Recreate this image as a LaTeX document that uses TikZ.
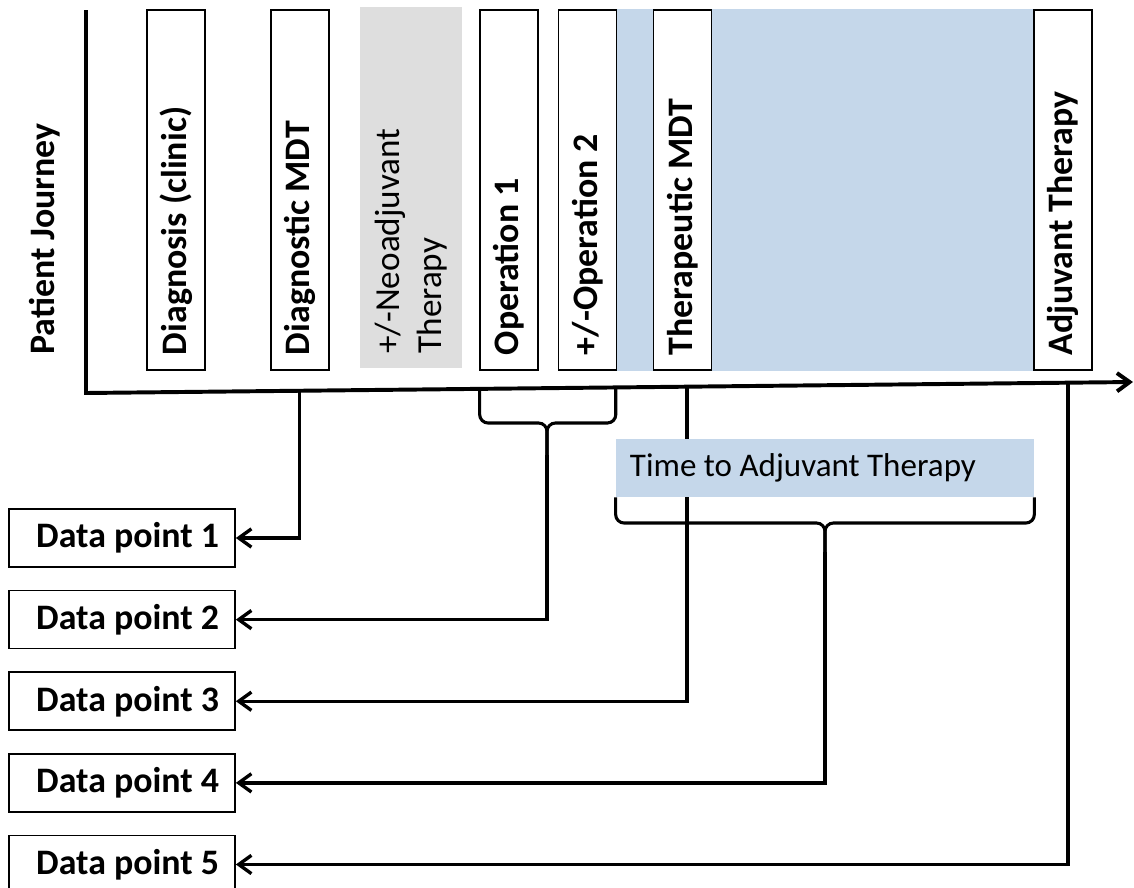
\documentclass[tikz,border=0pt]{standalone}
\usepackage{fontspec}
\setmainfont{Carlito}
\usetikzlibrary{arrows.meta,backgrounds}
\definecolor{stagegrey}{HTML}{DEDEDE}
\definecolor{gapblue}{HTML}{C5D7EA}
\tikzset{
  stage/.style={draw, line width=1.2pt, fill=white, rotate=90,
    minimum width=9cm, minimum height=1.45cm, text width=8.25cm,
    inner xsep=0.375cm, align=flush left, font=\bfseries\fontsize{25.5}{30.6}\selectfont},
  neo/.style={fill=stagegrey, rotate=90, minimum width=9.025cm,
    minimum height=2.55cm, text width=8.3cm, inner xsep=0.36cm,
    align=flush left, font=\fontsize{25}{30}\selectfont},
  datapt/.style={draw, line width=1.2pt, minimum height=1.45cm,
    text width=4.85cm, inner xsep=0.4cm, align=flush right,
    font=\bfseries\fontsize{25.5}{30.6}\selectfont},
  gap/.style={fill=gapblue, minimum height=1.45cm, text width=9.75cm,
    inner xsep=0.35cm, align=flush left, font=\fontsize{23.5}{28}\selectfont},
  axis/.style={line width=2.8pt, -{Straight Barb[length=9pt,width=13pt]}},
  link/.style={line width=2.4pt, -{Straight Barb[length=9pt,width=13pt]}},
  brace/.style={line width=2.2pt, rounded corners=6pt}
}
\begin{document}
\begin{tikzpicture}[x=0.025cm,y=-0.025cm]
    \useasboundingbox (0,0) rectangle (1134,888);
    % stages of the journey
    \node[stage] (diag) at (176,190) {Diagnosis (clinic)};
    \node[stage] (dmdt) at (300,190) {Diagnostic MDT};
    \node[neo] (neo) at (411,187.5) {+/-Neoadjuvant\\Therapy};
    \node[stage] (op1) at (509,190) {Operation 1};
    \node[stage] (op2) at (587.5,190) {+/-Operation 2};
    \node[stage] (tmdt) at (682.5,190) {Therapeutic MDT};
    \node[stage] (adj) at (1063,190) {Adjuvant Therapy};
    \begin{scope}[on background layer]
      \fill[gapblue] (op2.south east) rectangle (adj.north west);
    \end{scope}
    \node[rotate=90, font=\bfseries\fontsize{25.5}{30.6}\selectfont] (pj) at (45,239) {Patient Journey};
    % axes
    \coordinate (ytop) at (86,10);
    \coordinate (origin) at (86,393);
    \coordinate (xend) at (1133,382);
    \draw[axis] (ytop) -- (origin) -- coordinate[pos=0.204] (t1)
      coordinate[pos=0.376] (b1l) coordinate[pos=0.506] (b1r)
      coordinate[pos=0.574] (t3) coordinate[pos=0.938] (t5) (xend);
    % data points
    \node[datapt] (dp1) at (122,538) {Data point 1};
    \node[datapt] (dp2) [node distance=2.04cm, below of=dp1] {Data point 2};
    \node[datapt] (dp3) [node distance=2.04cm, below of=dp2] {Data point 3};
    \node[datapt] (dp4) [node distance=2.04cm, below of=dp3] {Data point 4};
    \node[datapt] (dp5) [node distance=2.04cm, below of=dp4] {Data point 5};
    % braces
    \coordinate (b1m) at (547,423);
    \coordinate (b1t) at (547,455);
    \draw[brace] (b1l) |- (b1m) -- (b1t);
    \draw[brace] (b1r) |- (b1m) -- (b1t);
    \coordinate (b2m) at (825,523);
    \coordinate (b2t) at (825,552);
    % connectors
    \draw[link] (t1) |- (dp1);
    \draw[link] (b1t) |- (dp2);
    \draw[link] (t3) |- (dp3);
    \draw[link] (b2t) |- (dp4);
    \draw[link] (t5) |- (dp5);
    \node[gap] (ttat) at (825,468) {Time to Adjuvant Therapy};
    \draw[brace] (ttat.south west) |- (b2m) -- (b2t);
    \draw[brace] (ttat.south east) |- (b2m) -- (b2t);
\end{tikzpicture}
\end{document}
